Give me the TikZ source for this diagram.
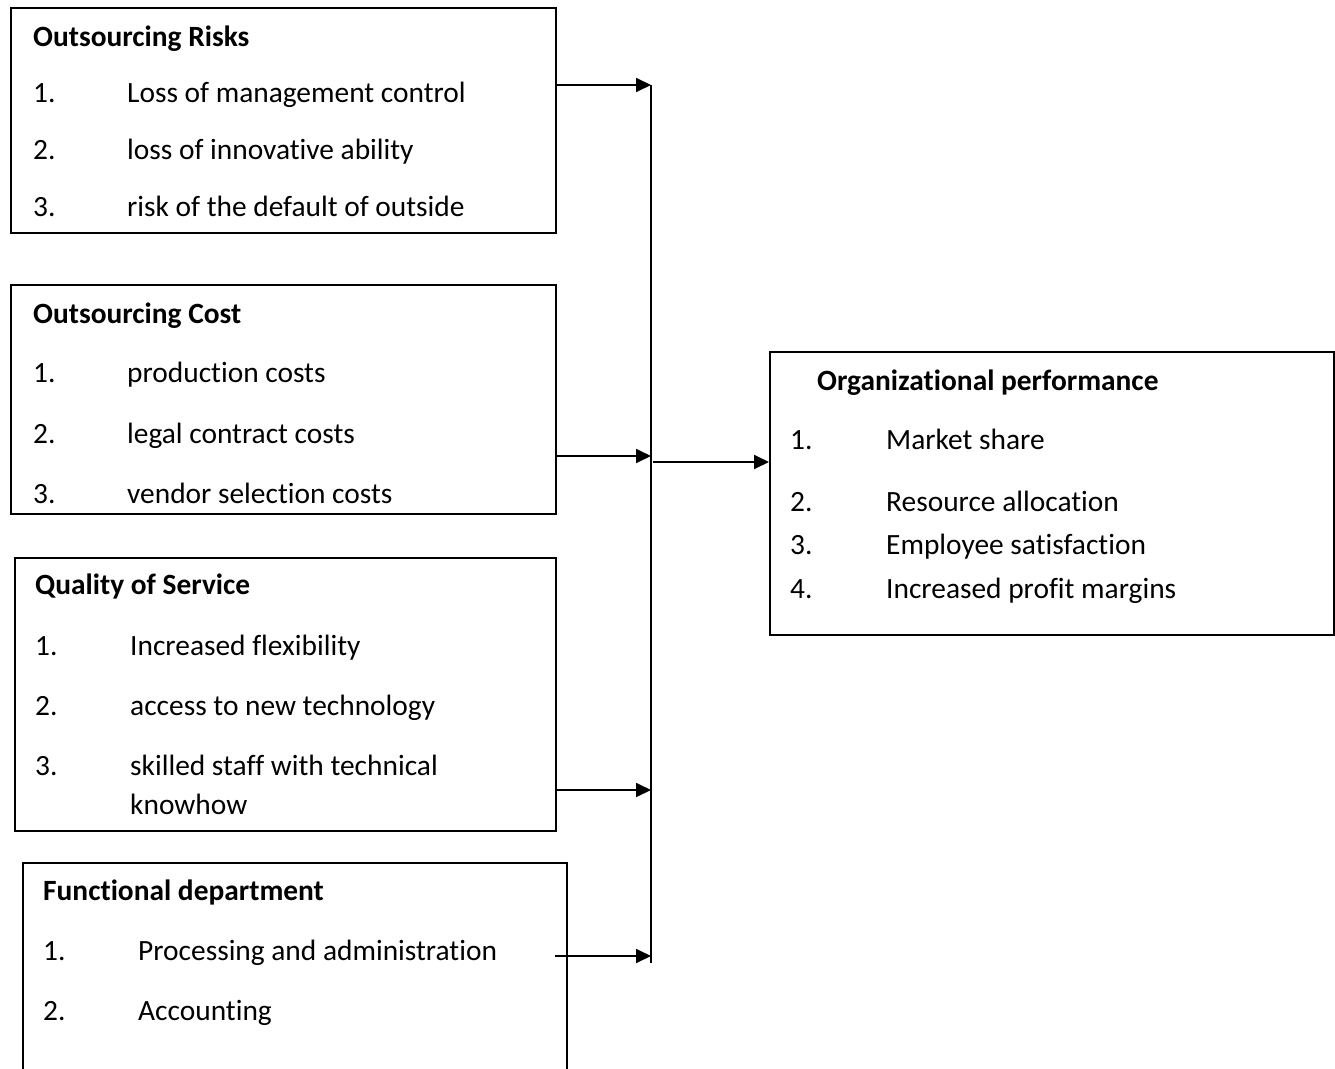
\documentclass[tikz,border=0pt]{standalone}
\usepackage{fontspec}
\setmainfont{Carlito}[Ligatures=NoCommon]
\usetikzlibrary{arrows.meta}
\begin{document}
\begin{tikzpicture}[x=1pt,y=-1pt,
  box/.style={draw,line width=1.8pt,anchor=north west,inner sep=0pt},
  txt/.style={anchor=west,inner sep=0pt,text height=0.72em,text depth=0.2em,
    yshift=-6.5pt,font=\fontsize{29.4}{34}\selectfont},
  ttl/.style={txt,font=\fontsize{29.4}{34}\selectfont\bfseries},
  link/.style={line width=1.8pt,-{Triangle[length=15pt,width=14pt]}},
  bus/.style={line width=1.8pt}]
\useasboundingbox (0,0) rectangle (1335,1068);
\clip (0,0) rectangle (1335,1068);

% boxes
\node[box,minimum width=545pt,minimum height=225pt] (risks) at (10,7) {};
\node[box,minimum width=545pt,minimum height=229pt] (cost) at (10,284) {};
\node[box,minimum width=541pt,minimum height=273pt] (quality) at (14,557) {};
\node[box,minimum width=544pt,minimum height=230pt] (dept) at (22,862) {};
\node[box,minimum width=564pt,minimum height=283pt] (perf) at (769,351) {};

% Outsourcing Risks
\node[ttl] (r0) at (33,37) {Outsourcing Risks};
\node[txt] (r1n) at (33,93) {1.};  \node[txt] (r1) at (127,93) {Loss of management control};
\node[txt] (r2n) at (33,150) {2.}; \node[txt] (r2) at (127,150) {loss of innovative ability};
\node[txt] (r3n) at (33,207) {3.}; \node[txt] (r3) at (127,207) {risk of the default of outside};

% Outsourcing Cost
\node[ttl] (c0) at (33,314) {Outsourcing Cost};
\node[txt] (c1n) at (33,373) {1.}; \node[txt] (c1) at (127,373) {production costs};
\node[txt] (c2n) at (33,434) {2.}; \node[txt] (c2) at (127,434) {legal contract costs};
\node[txt] (c3n) at (33,494) {3.}; \node[txt] (c3) at (127,494) {vendor selection costs};

% Quality of Service
\node[ttl] (q0) at (35,585) {Quality of Service};
\node[txt] (q1n) at (35,646) {1.}; \node[txt] (q1) at (130,646) {Increased flexibility};
\node[txt] (q2n) at (35,706) {2.}; \node[txt] (q2) at (130,706) {access to new technology};
\node[txt] (q3n) at (35,766) {3.}; \node[txt] (q3) at (130,766) {skilled staff with technical};
\node[txt] (q3b) at (130,805) {knowhow};

% Functional department
\node[ttl] (d0) at (43,891) {Functional department};
\node[txt] (d1n) at (43,951) {1.};  \node[txt] (d1) at (138,951) {Processing and administration};
\node[txt] (d2n) at (43,1011) {2.}; \node[txt] (d2) at (138,1011) {Accounting};

% Organizational performance
\node[ttl] (p0) at (817,381) {Organizational performance};
\node[txt] (p1n) at (790,440) {1.}; \node[txt] (p1) at (886,440) {Market share};
\node[txt] (p2n) at (790,502) {2.}; \node[txt] (p2) at (886,502) {Resource allocation};
\node[txt] (p3n) at (790,545) {3.}; \node[txt] (p3) at (886,545) {Employee satisfaction};
\node[txt] (p4n) at (790,589) {4.}; \node[txt] (p4) at (886,589) {Increased profit margins};

% collecting line
\coordinate (busTop) at (651,85);
\coordinate (busBot) at (651,963);
\draw[bus] (busTop) -- (busBot);

\coordinate (b1) at (651,85);
\coordinate (b2) at (651,456);
\coordinate (b3) at (651,790);
\coordinate (b4) at (651,956);
\coordinate (d4) at (555,956);
\coordinate (out) at (653,462);

\draw[link] (risks.east |- b1) -- (b1);
\draw[link] (cost.east |- b2) -- (b2);
\draw[link] (quality.east |- b3) -- (b3);
\draw[link] (d4) -- (b4);
\draw[link] (out) -- (perf.west |- out);
\end{tikzpicture}
\end{document}
